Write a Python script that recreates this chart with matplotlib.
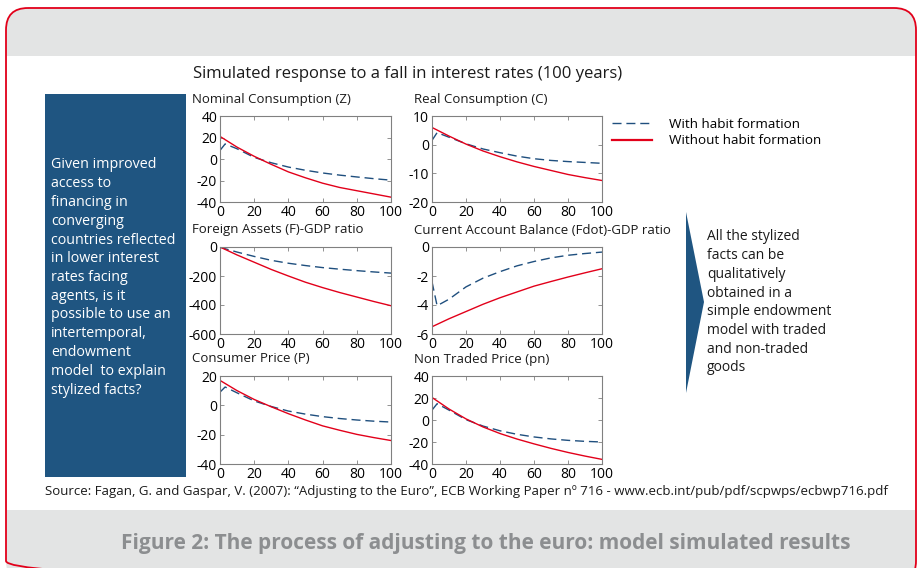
import numpy as np
import matplotlib.pyplot as plt
from matplotlib.patches import FancyBboxPatch, Rectangle, Polygon
from matplotlib.lines import Line2D

plt.rcParams['font.family'] = ['Open Sans', 'DejaVu Sans']
plt.rcParams['axes.unicode_minus'] = False

# data
years = [0, 10, 20, 30, 40, 50, 60, 70, 80, 90, 100]
years_habit = [0, 3, 10, 20, 30, 40, 50, 60, 70, 80, 90, 100]

nom_without = [21, 11, 2.5, -5, -12, -17.5, -22.5, -26.5, -29.5, -32.5, -35.5]
nom_with = [8, 14, 9.5, 1.5, -3.5, -7.5, -10.5, -13, -15, -16.7, -18.3, -19.7]

real_without = [6, 3, 0.2, -2.2, -4.2, -6, -7.6, -9, -10.4, -11.5, -12.5]
real_with = [1.5, 4.2, 2.6, 0.3, -1.5, -2.8, -4, -4.9, -5.5, -5.9, -6.2, -6.5]

fa_without = [0, -55, -105, -155, -200, -243, -280, -314, -345, -376, -405]
fa_with = [0, -12, -35, -65, -92, -112, -128, -142, -153, -163, -172, -180]

ca_without = [-5.5, -4.95, -4.45, -3.95, -3.5, -3.1, -2.7, -2.38, -2.07, -1.78, -1.5]
ca_with = [-2.4, -4.05, -3.6, -2.75, -2.15, -1.7, -1.3, -1.0, -0.75, -0.57, -0.45, -0.35]

cp_without = [17, 10, 4, -1, -5.7, -10, -14, -17, -19.8, -22, -24]
cp_with = [9, 12.5, 8.5, 3, -0.8, -3.9, -6, -7.7, -9, -10, -10.8, -11.4]

nt_without = [20.5, 10, 1, -6.3, -12.3, -17.3, -21.7, -25.8, -29.5, -32.8, -35.8]
nt_with = [9, 14.8, 9, 0.3, -5.5, -9.8, -13, -15.4, -17.2, -18.5, -19.4, -20]

titles = ['Nominal Consumption (Z)', 'Real Consumption (C)',
          'Foreign Assets (F)-GDP ratio', 'Current Account Balance (Fdot)-GDP ratio',
          'Consumer Price (P)', 'Non Traded Price (pn)']
with_series = [nom_with, real_with, fa_with, ca_with, cp_with, nt_with]
without_series = [nom_without, real_without, fa_without, ca_without, cp_without, nt_without]
ylims = [(-40, 40), (-20, 10), (-600, 0), (-6, 0), (-40, 20), (-40, 40)]
yticks = [[-40, -20, 0, 20, 40], [-20, -10, 0, 10], [-600, -400, -200, 0],
          [-6, -4, -2, 0], [-40, -20, 0, 20], [-40, -20, 0, 20, 40]]

left_text = ['Given improved', 'access to', 'financing in', 'converging',
             'countries reflected', 'in lower interest', 'rates facing',
             'agents, is it', 'possible to use an', 'intertemporal,',
             'endowment', 'model  to explain', 'stylized facts?']
right_text = ['All the stylized', 'facts can be', 'qualitatively', 'obtained in a',
              'simple endowment', 'model with traded', 'and non-traded', 'goods']

W, H = 918, 568
RED = '#e2001a'
BLUE = '#1f4f7e'
BOX = '#1f5581'
GREY_BAND = '#e3e4e4'

fig = plt.figure(figsize=(W / 100, H / 100), dpi=100)

# background canvas in pixel coordinates
bg = fig.add_axes([0, 0, 1, 1])
bg.set_xlim(0, W)
bg.set_ylim(H, 0)
bg.axis('off')

bg.add_patch(FancyBboxPatch((6, 8), 910, 575, boxstyle='round,pad=0,rounding_size=22',
                            facecolor=GREY_BAND, edgecolor='none'))
bg.add_patch(Rectangle((7, 56), 908, 454, facecolor='white', edgecolor='none'))
bg.add_patch(FancyBboxPatch((6, 8), 910, 575, boxstyle='round,pad=0,rounding_size=22',
                            facecolor='none', edgecolor=RED, linewidth=1.3))

bg.add_patch(Rectangle((45, 94), 141, 383, facecolor=BOX, edgecolor='none'))
bg.add_patch(Polygon([(686, 212), (704, 302), (686, 393)], closed=True,
                     facecolor=BOX, edgecolor='none'))

for i, line in enumerate(left_text):
    bg.text(51, 165 + i * 18.75, line, color='white', fontsize=10.3, va='center', ha='left')
for i, line in enumerate(right_text):
    bg.text(707, 237 + i * 18.7, line, color='#1a1a1a', fontsize=10, va='center', ha='left')

bg.text(193, 74, 'Simulated response to a fall in interest rates (100 years)',
        fontsize=12, va='center', ha='left', color='#1a1a1a')
bg.text(45, 491, 'Source: Fagan, G. and Gaspar, V. (2007): \u201cAdjusting to the Euro\u201d, '
        'ECB Working Paper n\u00ba 716 - www.ecb.int/pub/pdf/scpwps/ecbwp716.pdf',
        fontsize=9.5, va='center', ha='left', color='#1a1a1a')
bg.text(486, 543, 'Figure 2: The process of adjusting to the euro: model simulated results',
        fontsize=15, fontweight='bold', va='center', ha='center', color='#8c8e90')

cols = [(220, 391), (432, 602)]
rows = [(116, 202), (247, 334), (376, 464)]
title_x = [192, 414]

axes = []
for k in range(6):
    r, c = divmod(k, 2)
    x0, x1 = cols[c]
    y0, y1 = rows[r]
    ax = fig.add_axes([x0 / W, 1 - y1 / H, (x1 - x0) / W, (y1 - y0) / H])
    ax.plot(years_habit, with_series[k], color=BLUE, linewidth=1.0, dashes=(6.5, 3.5),
            label='With habit formation')
    ax.plot(years, without_series[k], color=RED, linewidth=1.0,
            label='Without habit formation')
    ax.set_xlim(0, 100)
    ax.set_ylim(*ylims[k])
    ax.set_xticks([0, 20, 40, 60, 80, 100])
    ax.set_yticks(yticks[k])
    ax.tick_params(direction='in', length=3, width=0.6, color='#808080',
                   top=True, right=True, labelsize=10, pad=2)
    for s in ax.spines.values():
        s.set_color('#808080')
        s.set_linewidth(0.8)
    bg.text(title_x[c], y0 - 17, titles[k], fontsize=9.5, va='center', ha='left',
            color='#1a1a1a')
    axes.append(ax)

handles = [Line2D([], [], color=BLUE, linewidth=1.0, dashes=(6.5, 3.5)),
           Line2D([], [], color=RED, linewidth=1.6)]
fig.legend(handles, ['With habit formation', 'Without habit formation'],
           loc='upper left', bbox_to_anchor=(612 / W, 1 - 118 / H), frameon=False,
           fontsize=9.7, handlelength=3.0, handletextpad=1.2, labelspacing=0.25,
           borderpad=0, borderaxespad=0)

fig.savefig('out.png', dpi=100)
